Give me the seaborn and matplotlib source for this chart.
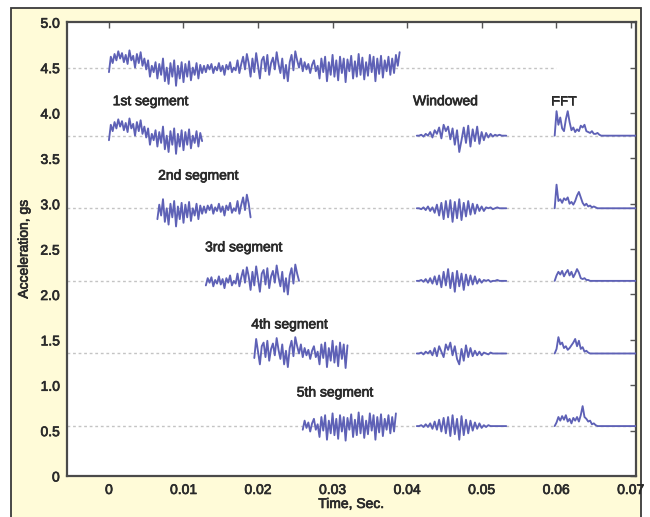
import numpy as np
import pandas as pd
import seaborn as sns
import matplotlib
matplotlib.use("Agg")
import matplotlib.pyplot as plt
import matplotlib.patheffects as pe
from matplotlib.patches import Rectangle

# ---------------- data ----------------
# full recorded signal, deviation from its 4.5 g baseline, sampled every 0.25 ms from t=0
signal_dt = 0.00025
signal_base = 4.5
signal_dev = [
    -0.05, 0.12, 0.05, 0.15, 0.08, 0.18, 0.10, 0.16, 0.06,
    0.14, 0.04, 0.19, 0.08, 0.13, 0.00, 0.15, 0.05, 0.17, 0.02, 0.10, -0.02,
    0.08, -0.10, 0.02, -0.05, 0.06, -0.12, 0.04, -0.08, 0.10, -0.15, 0.00, -0.18,
    0.05, -0.10, 0.08, -0.20, 0.02, -0.12, 0.06, -0.16, 0.04, -0.10, 0.07, -0.14, 0.00, -0.08, 0.05, -0.12,
    0.03, -0.06,
    0.02, -0.05, 0.03, -0.02, 0.04, -0.06, 0.01, -0.03, 0.05, -0.04, 0.02, -0.08, 0.03, -0.02, 0.06, -0.05,
    0.00, -0.03, 0.08, -0.06, 0.04, 0.12,
    -0.02, 0.15, 0.05, -0.10, 0.10, -0.05, 0.16, 0.02, -0.12, 0.08, 0.12, -0.04, 0.14, -0.08, 0.05, 0.11,
    -0.02, 0.17, 0.04, -0.06, 0.10, -0.12, 0.03, -0.15, 0.06, 0.14, -0.03, 0.18, 0.08, 0.00, 0.10, -0.04,
    0.06, -0.02, 0.04, -0.06, 0.03, 0.08, -0.04, 0.02,
    -0.12, 0.10, -0.05, 0.12, -0.15, 0.06, -0.08, 0.14, -0.10, 0.08, -0.14, 0.12, -0.06, 0.10, -0.16, 0.09,
    -0.04, 0.13, -0.12, 0.07, -0.10, 0.15, -0.08, 0.11, -0.13, 0.06, -0.09, 0.14, -0.05, 0.12, -0.15, 0.10,
    -0.07, 0.13, -0.11, 0.08, -0.04, 0.12, -0.08, 0.10, -0.06, 0.14, 0.02, 0.17,
]

# segments: five 50%-overlapping pieces of the signal
segment_names = ["1st segment", "2nd segment", "3rd segment", "4th segment", "5th segment"]
segment_base = [3.75, 2.95, 2.15, 1.35, 0.55]
segment_start_idx = [0, 26, 52, 78, 104]
segment_len = 51

# windowed segments (deviation from each row baseline), start 0.0413 s, 0.3 ms spacing
win_t0 = 0.0413
win_dt = 0.0003
windowed_dev = [
    [0, 0.0, 0.01, -0.01, 0.02, 0.0, 0.04, -0.02, 0.06, 0.02, 0.09, -0.03, 0.12, 0.05, 0.10, -0.04, 0.08,
     -0.10, 0.06, -0.18, -0.05, 0.09, -0.08, 0.11, -0.12, 0.07, -0.06, 0.10, -0.09, 0.04, -0.05, 0.03,
     -0.02, 0.02, -0.01, 0.01, 0.0, 0.01, 0.0, 0.0, 0.0],
    [0, 0.0, -0.01, 0.01, -0.02, 0.02, -0.03, 0.01, -0.05, 0.04, -0.08, 0.06, -0.12, 0.08, -0.10, 0.09,
     -0.15, 0.07, -0.11, 0.10, -0.13, 0.06, -0.09, 0.08, -0.07, 0.05, -0.06, 0.04, -0.03, 0.02, -0.03,
     0.01, 0.0, 0.01, -0.01, 0.0, 0.01, 0.0, 0.0, 0.0, 0.0],
    [0, 0.0, 0.01, -0.01, 0.02, -0.02, 0.03, -0.03, 0.05, -0.04, 0.06, -0.07, 0.10, -0.05, 0.13, -0.08,
     0.09, -0.12, 0.11, -0.06, 0.08, -0.10, 0.07, -0.05, 0.06, -0.04, 0.05, -0.03, 0.02, -0.02, 0.01,
     0.0, 0.01, -0.01, 0.0, 0.0, 0.01, 0.0, 0.0, 0.0, 0.0],
    [0, 0.0, 0.01, -0.01, 0.02, 0.0, 0.03, -0.02, 0.06, -0.03, 0.08, 0.02, -0.04, 0.10, 0.04, 0.12,
     -0.02, 0.08, -0.06, -0.12, 0.05, -0.08, 0.09, -0.04, 0.06, -0.03, 0.03, -0.02, 0.02, -0.02, 0.01,
     0.0, -0.01, 0.01, 0.0, 0.0, 0.0, 0.0, 0.0, 0.0, 0.0],
    [0, 0.0, 0.01, -0.01, 0.02, -0.01, 0.03, -0.03, 0.05, -0.04, 0.07, -0.06, 0.09, -0.08, 0.10, -0.11,
     0.12, -0.09, 0.08, -0.15, 0.11, -0.10, 0.07, -0.08, 0.06, -0.05, 0.04, -0.03, 0.03, -0.02, 0.01,
     -0.01, 0.01, 0.0, 0.0, 0.0, 0.0, 0.0, 0.0, 0.0, 0.0],
]

# FFT magnitudes (height above each row baseline), start 0.0598 s, 0.25 ms spacing
fft_t0 = 0.0598
fft_dt = 0.00025
fft_mag = [
    [0.0, 0.27, 0.12, 0.20, 0.08, 0.05, 0.18, 0.27, 0.15, 0.06, 0.09, 0.04, 0.07, 0.05, 0.11, 0.09,
     0.12, 0.05, 0.04, 0.03, 0.05, 0.02, 0.02, 0.03, 0.01, 0.0, 0.0, 0.0, 0.0, 0.0, 0.0, 0.0, 0.0,
     0.0, 0.0, 0.0, 0.0, 0.0, 0.0, 0.0, 0.0, 0.0, 0.0, 0.0, 0.0],
    [0.0, 0.26, 0.08, 0.10, 0.06, 0.11, 0.09, 0.12, 0.05, 0.07, 0.04, 0.08, 0.14, 0.18, 0.12, 0.06,
     0.03, 0.05, 0.02, 0.03, 0.01, 0.02, 0.01, 0.0, 0.0, 0.0, 0.0, 0.0, 0.0, 0.0, 0.0, 0.0, 0.0,
     0.0, 0.0, 0.0, 0.0, 0.0, 0.0, 0.0, 0.0, 0.0, 0.0, 0.0, 0.0],
    [0.0, 0.06, 0.10, 0.07, 0.11, 0.05, 0.09, 0.12, 0.06, 0.10, 0.04, 0.08, 0.13, 0.09, 0.03, 0.02,
     0.03, 0.01, 0.01, 0.0, 0.0, 0.0, 0.0, 0.0, 0.0, 0.0, 0.0, 0.0, 0.0, 0.0, 0.0, 0.0, 0.0,
     0.0, 0.0, 0.0, 0.0, 0.0, 0.0, 0.0, 0.0, 0.0, 0.0, 0.0, 0.0],
    [0.0, 0.05, 0.18, 0.10, 0.12, 0.06, 0.08, 0.04, 0.06, 0.09, 0.12, 0.16, 0.08, 0.14, 0.05, 0.07,
     0.02, 0.03, 0.01, 0.0, 0.0, 0.0, 0.0, 0.0, 0.0, 0.0, 0.0, 0.0, 0.0, 0.0, 0.0, 0.0, 0.0,
     0.0, 0.0, 0.0, 0.0, 0.0, 0.0, 0.0, 0.0, 0.0, 0.0, 0.0, 0.0],
    [0.0, 0.04, 0.10, 0.06, 0.11, 0.07, 0.12, 0.05, 0.08, 0.03, 0.09, 0.06, 0.10, 0.05, 0.12, 0.22,
     0.10, 0.08, 0.05, 0.06, 0.02, 0.03, 0.01, 0.0, 0.0, 0.0, 0.0, 0.0, 0.0, 0.0, 0.0, 0.0, 0.0,
     0.0, 0.0, 0.0, 0.0, 0.0, 0.0, 0.0, 0.0, 0.0, 0.0, 0.0, 0.0],
]

column_titles = ["Windowed", "FFT"]
x_ticks = [0, 0.01, 0.02, 0.03, 0.04, 0.05, 0.06, 0.07]
x_tick_labels = ["0", "0.01", "0.02", "0.03", "0.04", "0.05", "0.06", "0.07"]
y_ticks = [0, 0.5, 1.0, 1.5, 2.0, 2.5, 3.0, 3.5, 4.0, 4.5, 5.0]
y_tick_labels = ["0", "0.5", "1.0", "1.5", "2.0", "2.5", "3.0", "3.5", "4.0", "4.5", "5.0"]

# ---------------- build long table ----------------
rows = []
sig = np.array(signal_dev)
sig_t = np.arange(len(sig)) * signal_dt
for t, v in zip(sig_t, sig):
    rows.append(("full", t, signal_base + v))
for k, (b, s0) in enumerate(zip(segment_base, segment_start_idx)):
    for i in range(s0, min(s0 + segment_len, len(sig))):
        rows.append((f"seg{k}", sig_t[i], b + sig[i]))
    for i, v in enumerate(windowed_dev[k]):
        rows.append((f"win{k}", win_t0 + i * win_dt, b + v))
    for i, v in enumerate(fft_mag[k]):
        rows.append((f"fft{k}", fft_t0 + i * fft_dt, b + v))
df = pd.DataFrame(rows, columns=["trace", "t", "g"])

# ---------------- plot ----------------
sns.set_style("white")
plt.rcParams["font.family"] = ["Liberation Sans", "DejaVu Sans"]
text_color = "#2a2a2a"
line_color = "#5e61b6"
bold_fx = [pe.withStroke(linewidth=0.5, foreground=text_color)]

fig = plt.figure(figsize=(6.5, 5.17), dpi=100, facecolor="white")
fig.patches.append(Rectangle((11 / 650, -0.02), 630 / 650, 1.02 - 8 / 517,
                             transform=fig.transFigure, facecolor="#fffbd8",
                             edgecolor="#3a3a3a", linewidth=1.3, zorder=-10))
ax = fig.add_axes([0.1026, 0.0793, 0.8754, 0.8777])
ax.set_zorder(5)
ax.set_facecolor("white")

xlim = (-0.00567, 0.07067)
# dotted baselines
ax.hlines(signal_base, xlim[0], 0.060, colors="#c4c4c4", linestyles=(0, (2, 2)), linewidth=1.0, zorder=1)
ax.hlines(segment_base, xlim[0], xlim[1], colors="#c4c4c4", linestyles=(0, (2, 2)), linewidth=1.0, zorder=1)

sns.lineplot(data=df, x="t", y="g", units="trace", estimator=None, sort=False,
             color=line_color, linewidth=1.35, ax=ax, zorder=3)

ax.set_xlim(*xlim)
ax.set_ylim(0, 5)
ax.set_xticks(x_ticks)
ax.set_xticklabels(x_tick_labels)
ax.set_yticks(y_ticks)
ax.set_yticklabels(y_tick_labels)
ax.tick_params(direction="in", length=4, width=1.0, color="#555555", top=True, right=True,
               labelsize=10, labelcolor=text_color, pad=5)
for lab in ax.get_xticklabels() + ax.get_yticklabels():
    lab.set_path_effects(bold_fx)
for s in ax.spines.values():
    s.set_color("#4a4a4a")
    s.set_linewidth(1.6)
ax.set_xlabel("Time, Sec.", fontsize=10, color=text_color, labelpad=0, path_effects=bold_fx)
ax.set_ylabel("Acceleration, gs", fontsize=10, color=text_color, labelpad=7, path_effects=bold_fx)

label_pos = [(0.0005, 4.13), (0.0066, 3.31), (0.0129, 2.52), (0.0191, 1.67), (0.0252, 0.92)]
for name, (x, y) in zip(segment_names, label_pos):
    ax.text(x, y, name, fontsize=10, color=text_color, va="center", ha="left", path_effects=bold_fx)
ax.text(0.0408, 4.13, column_titles[0], fontsize=10, color=text_color, va="center", ha="left",
        path_effects=bold_fx)
ax.text(0.0593, 4.13, column_titles[1], fontsize=10, color=text_color, va="center", ha="left",
        path_effects=bold_fx)

fig.savefig("out.png", dpi=100, facecolor=fig.get_facecolor())
